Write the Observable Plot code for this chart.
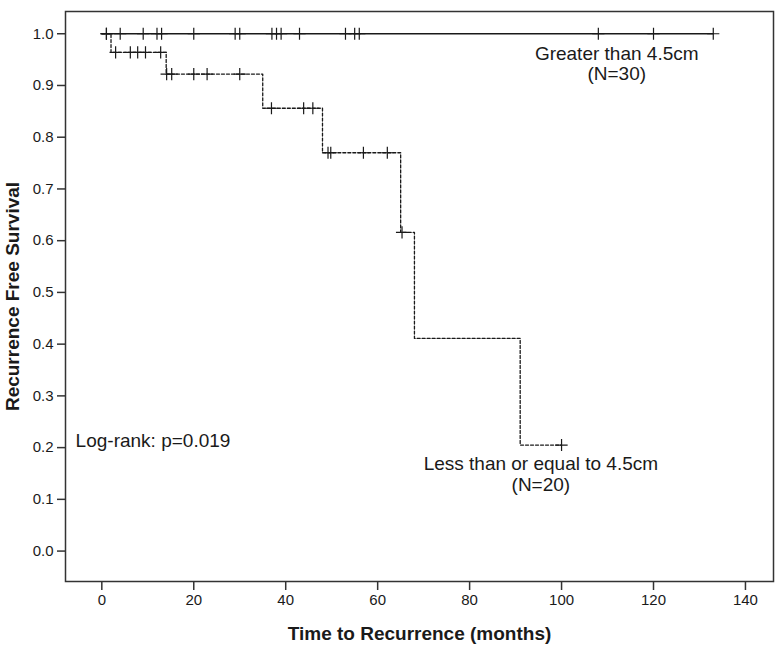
<!DOCTYPE html>
<html>
<head>
<meta charset="utf-8">
<script src="https://cdn.jsdelivr.net/npm/d3@7"></script>
<script src="https://cdn.jsdelivr.net/npm/@observablehq/plot@0.6"></script>
<style>
  html, body { margin: 0; padding: 0; background: white; }
</style>
</head>
<body>
<div id="chart"></div>
<script>
// ---- Data ----
// Group > 4.5cm (N=30): no events, all censored
const largeStepTimes = [0, 133];
const largeStepSurv = [1, 1];
const largeCensorTimes = [1, 4, 9, 12, 13, 20, 29, 30, 37, 38, 39, 43, 53, 55, 56, 108, 120, 133];

// Group <= 4.5cm (N=20): step curve
const smallStepTimes = [0, 2, 14, 35, 48, 65, 68, 91, 100];
const smallStepSurv = [1, 0.964, 0.922, 0.856, 0.770, 0.616, 0.411, 0.205, 0.205];
const smallCensorTimes = [1, 3, 6.2, 7.8, 9.5, 12.8, 14.1, 15.2, 20, 22.9, 30, 36.9, 43.9, 45.9, 49.2, 49.8, 56.9, 62.1, 65.3, 100];
const smallCensorSurv = [1, 0.964, 0.964, 0.964, 0.964, 0.964, 0.922, 0.922, 0.922, 0.922, 0.922, 0.856, 0.856, 0.856, 0.770, 0.770, 0.770, 0.770, 0.616, 0.205];

const xTicks = [0, 20, 40, 60, 80, 100, 120, 140];
const yTicks = [0, 0.1, 0.2, 0.3, 0.4, 0.5, 0.6, 0.7, 0.8, 0.9, 1.0];

const xTitle = "Time to Recurrence (months)";
const yTitle = "Recurrence Free Survival";
const labelLarge = "Greater than 4.5cm\n(N=30)";
const labelSmall = "Less than or equal to 4.5cm\n(N=20)";
const labelTest = "Log-rank: p=0.019";

// ---- Build tables ----
const largeLine = largeStepTimes.map((t, i) => ({t, s: largeStepSurv[i]}));
const largeCensor = largeCensorTimes.map(t => ({t, s: 1}));
const smallLine = smallStepTimes.map((t, i) => ({t, s: smallStepSurv[i]}));
const smallCensor = smallCensorTimes.map((t, i) => ({t, s: smallCensorSurv[i]}));

const ink = "#1a1a1a";

const chart = Plot.plot({
  width: 784,
  height: 645,
  marginLeft: 65,
  marginRight: 11,
  marginTop: 11,
  marginBottom: 64,
  x: {domain: [-7.9, 146.1]},
  y: {domain: [-0.0588, 1.043]},
  style: {fontFamily: "'Liberation Sans', Arial, sans-serif", fontSize: "15px", color: ink, background: "white"},
  marks: [
    Plot.axisX({ticks: xTicks, tickSize: 9, tickPadding: 4, label: null, stroke: "#333", strokeWidth: 1.5, fontSize: 15}),
    Plot.axisY({ticks: yTicks, tickFormat: d3.format(".1f"), tickSize: 8, tickPadding: 4, label: null, stroke: "#333", strokeWidth: 1.5, fontSize: 15}),
    Plot.frame({stroke: "#333", strokeWidth: 1.5}),
    Plot.line(largeLine, {x: "t", y: "s", stroke: ink, strokeWidth: 1.3}),
    Plot.dot(largeCensor, {x: "t", y: "s", symbol: "plus", r: 4, stroke: ink, strokeWidth: 1.2}),
    Plot.line(smallLine, {x: "t", y: "s", curve: "step-after", stroke: ink, strokeWidth: 1.3, strokeDasharray: "3,2"}),
    Plot.dot(smallCensor, {x: "t", y: "s", symbol: "plus", r: 4, stroke: ink, strokeWidth: 1.2}),
    Plot.text([labelLarge], {x: 112, y: 0.9426, text: d => d, fontSize: 19, lineHeight: 1.08, fill: ink}),
    Plot.text([labelSmall], {x: 95.5, y: 0.149, text: d => d, fontSize: 19, lineHeight: 1.08, fill: ink}),
    Plot.text([labelTest], {x: -5.7, y: 0.2133, text: d => d, fontSize: 19, textAnchor: "start", fill: ink}),
    Plot.text([xTitle], {frameAnchor: "bottom", dy: 52, textAnchor: "middle", lineAnchor: "middle", text: d => d, fontSize: 19, fontWeight: "bold", fill: ink}),
    Plot.text([yTitle], {frameAnchor: "left", dx: -53, rotate: -90, textAnchor: "middle", lineAnchor: "middle", text: d => d, fontSize: 19, fontWeight: "bold", fill: ink})
  ]
});
document.getElementById("chart").appendChild(chart);
</script>
</body>
</html>
